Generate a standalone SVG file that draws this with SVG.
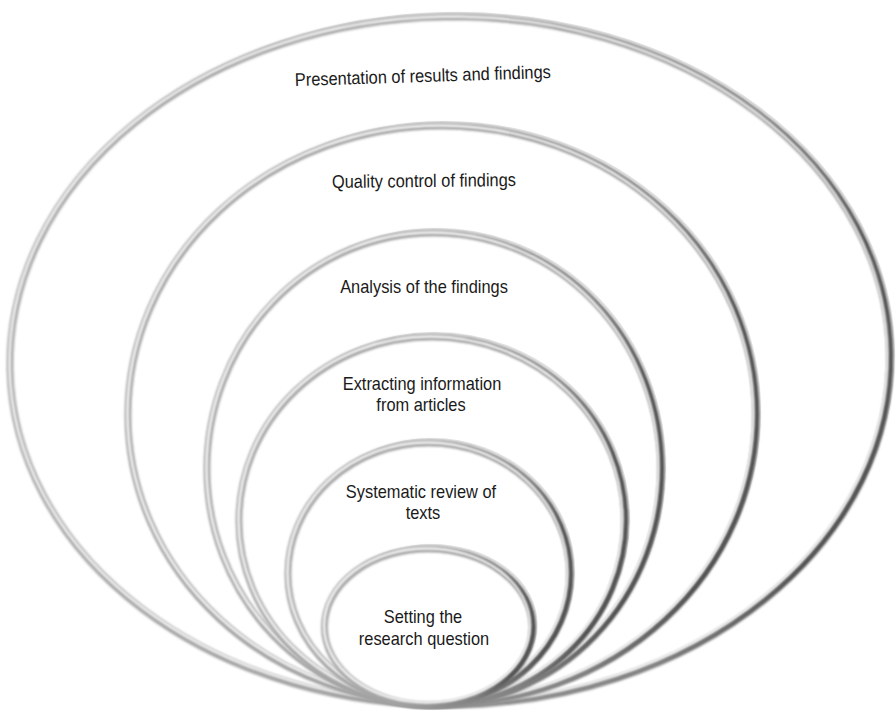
<svg xmlns="http://www.w3.org/2000/svg" width="896" height="710" viewBox="0 0 896 710">
<defs>
  <linearGradient id="edge" x1="0" y1="0" x2="1" y2="0.15">
    <stop offset="0" stop-color="#ababab"/>
    <stop offset="0.5" stop-color="#a2a2a2"/>
    <stop offset="0.85" stop-color="#808080"/>
    <stop offset="1" stop-color="#525252"/>
  </linearGradient>
  <filter id="soft" x="-5%" y="-5%" width="110%" height="110%">
    <feGaussianBlur stdDeviation="1"/>
  </filter>
</defs>
<style>
  .halo{fill:none;stroke:#e6e6e6;stroke-width:2}
  .base{fill:#ffffff;stroke:url(#edge);stroke-width:7;filter:url(#soft)}
  .hi{fill:none;stroke:#fafafa;stroke-width:2.4;filter:url(#soft)}
  .lbl{font-family:"Liberation Sans",Arial,sans-serif;font-size:16.4px;fill:#1a1a1a;text-anchor:middle}
</style>
<rect width="896" height="710" fill="#ffffff"/>

<g id="ring1" transform="rotate(-1 450 361)">
  <ellipse class="halo" cx="453" cy="358" rx="441" ry="345"/>
  <ellipse class="base" cx="450" cy="361" rx="440" ry="344"/>
  <ellipse class="hi" cx="448.5" cy="359.5" rx="439" ry="343"/>
</g>
<g id="ring2">
  <ellipse class="halo" cx="445" cy="412" rx="315" ry="290"/>
  <ellipse class="base" cx="442" cy="415" rx="314" ry="289"/>
  <ellipse class="hi" cx="440.5" cy="413.5" rx="313" ry="288"/>
</g>
<g id="ring3">
  <ellipse class="halo" cx="437" cy="466" rx="228" ry="237"/>
  <ellipse class="base" cx="434" cy="469" rx="227" ry="236"/>
  <ellipse class="hi" cx="432.5" cy="467.5" rx="226" ry="235"/>
</g>
<g id="ring4">
  <ellipse class="halo" cx="435" cy="518" rx="194" ry="185"/>
  <ellipse class="base" cx="432" cy="521" rx="193" ry="184"/>
  <ellipse class="hi" cx="430.5" cy="519.5" rx="192" ry="183"/>
</g>
<g id="ring5">
  <ellipse class="halo" cx="432" cy="571" rx="142" ry="132"/>
  <ellipse class="base" cx="429" cy="574" rx="141" ry="131"/>
  <ellipse class="hi" cx="427.5" cy="572.5" rx="140" ry="130"/>
</g>
<g id="ring6">
  <ellipse class="halo" cx="431.5" cy="624" rx="105" ry="79"/>
  <ellipse class="base" cx="428.5" cy="627" rx="104" ry="78"/>
  <ellipse class="hi" cx="427" cy="625.5" rx="103" ry="77"/>
</g>

<g id="labels">
  <text class="lbl" transform="translate(423 82) rotate(-1.8) scale(1 1.12)">Presentation of results and findings</text>
  <text class="lbl" transform="translate(424 187) rotate(-0.6) scale(1 1.12)">Quality control of findings</text>
  <text class="lbl" transform="translate(424 293) scale(1 1.12)">Analysis of the findings</text>
  <text class="lbl" transform="translate(422 390) scale(1 1.12)">Extracting information</text>
  <text class="lbl" transform="translate(421 411) scale(1 1.12)">from articles</text>
  <text class="lbl" transform="translate(421 498) scale(1 1.12)">Systematic review of</text>
  <text class="lbl" transform="translate(423 519) scale(1 1.12)">texts</text>
  <text class="lbl" transform="translate(423 623) scale(1 1.12)">Setting the</text>
  <text class="lbl" transform="translate(424 645) scale(1 1.12)">research question</text>
</g>
</svg>
